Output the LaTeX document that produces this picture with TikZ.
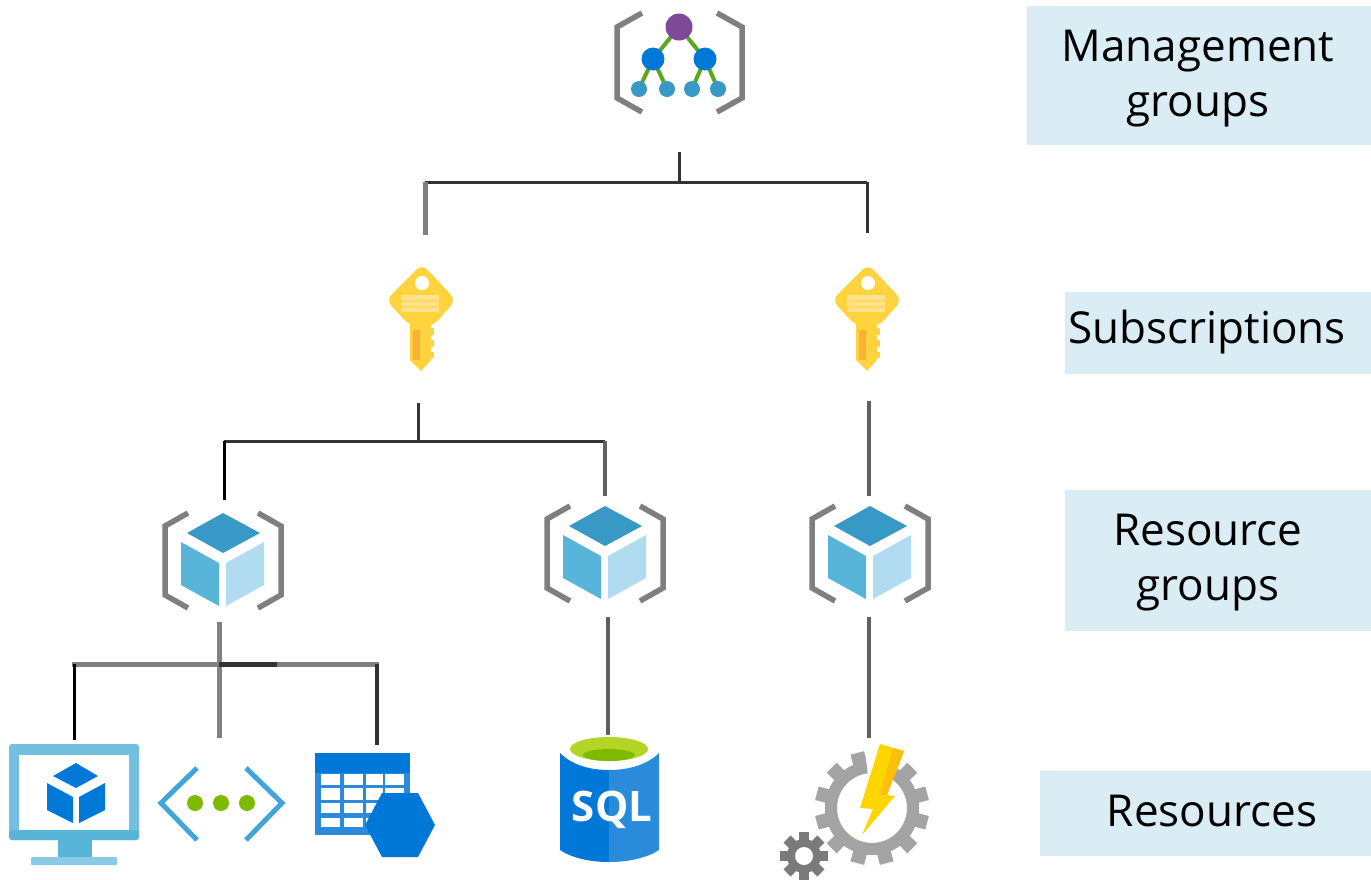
\documentclass[tikz,border=0pt]{standalone}
\usepackage{fontspec}
\setmainfont{Open Sans}
\definecolor{lab}{HTML}{DAEDF4}
\definecolor{brk}{HTML}{7F7F7F}
\definecolor{ink}{HTML}{333333}
\definecolor{midg}{HTML}{808080}
\definecolor{cubeT}{HTML}{3999C6}
\definecolor{cubeL}{HTML}{59B4D9}
\definecolor{cubeR}{HTML}{B0DBF0}
\definecolor{azb}{HTML}{0078D7}
\definecolor{azb2}{HTML}{2B8BDB}
\definecolor{purp}{HTML}{804998}
\definecolor{leaf}{HTML}{5EA51E}
\definecolor{lime}{HTML}{7FBA00}
\definecolor{keyY}{HTML}{FFD33D}
\definecolor{keyL}{HTML}{FFE38C}
\definecolor{keyO}{HTML}{F9B233}
\definecolor{gearL}{HTML}{A3A3A3}
\definecolor{gearD}{HTML}{7A7A7A}
\definecolor{apiB}{HTML}{40A6DA}
\definecolor{boltY}{HTML}{FFD500}
\definecolor{boltO}{HTML}{FFBE0A}
\tikzset{
  x=1pt,y=-1pt,
  labelbox/.style={fill=lab,draw=none},
  labeltext/.style={font=\fontsize{44}{55}\selectfont,align=center,text=black,inner sep=0pt},
  thinline/.style={draw=ink,line width=3pt},
  blackline/.style={draw=black,line width=3pt},
  greyline/.style={draw=midg,line width=5pt},
  slimgrey/.style={draw=black!62,line width=3.4pt},
  bracket/.style={draw=brk,line width=5.5pt,line join=miter},
  rgicon/.pic={
    \draw[bracket] (-35,-47)--(-58,-34)--(-58,35)--(-35,48);
    \draw[bracket] (35,-47)--(58,-34)--(58,35)--(35,48);
    \fill[cubeT] (0,-47)--(37,-27)--(0,-7)--(-36,-27)--cycle;
    \fill[cubeL] (-42,-18)--(-4,3)--(-4,46)--(-42,25)--cycle;
    \fill[cubeR] (3,3)--(41,-18)--(41,25)--(3,46)--cycle;
  },
  keyicon/.pic={
    \fill[keyY,rounded corners=8pt] (1,-56)--(35,-20)--(12,6)--(-11,6)--(-35,-20)--cycle;
    \fill[keyY] (-11,0)--(10,0)--(10,40)--(0,51)--(-11,40)--cycle;
    \fill[keyY] (9,8) rectangle (13,15);
    \fill[keyY] (9,20) rectangle (13,27);
    \fill[keyY] (9,32) rectangle (13,38);
    \fill[white] (1,-37) circle (7);
    \fill[keyL] (-20,-25) rectangle (18,-8);
    \fill[keyY!60!keyL] (-20,-20) rectangle (18,-18.5);
    \fill[keyY!60!keyL] (-20,-14) rectangle (18,-12.5);
    \fill[keyO] (-8,10) rectangle (-1,40);
  },
}
\begin{document}
\begin{tikzpicture}
\useasboundingbox (0,0) rectangle (1371,879);
% label bands
\fill[labelbox] (1027,6) rectangle (1371,145);
\fill[labelbox] (1065,292) rectangle (1371,374);
\fill[labelbox] (1065,490) rectangle (1371,631);
\fill[labelbox] (1040,771) rectangle (1371,856);
\node[labeltext] (lblMg) at (1198,79) {Management\\groups};
\node[labeltext] (lblSub) at (1207,332) {Subscriptions};
\node[labeltext] (lblRg) at (1208,563) {Resource\\groups};
\node[labeltext] (lblRes) at (1212,811) {Resources};
% connector anchors
\coordinate (mgOut) at (679,152);
\coordinate (mgJ) at (679,182);
\coordinate (subAIn) at (425,235);
\coordinate (subBIn) at (867,233);
\coordinate (subAOut) at (418,403);
\coordinate (subAJ) at (418,441);
\coordinate (rgAIn) at (224,500);
\coordinate (rgBIn) at (605,496);
\coordinate (subBOut) at (869,401);
\coordinate (rgCIn) at (869,496);
\coordinate (rgAOut) at (219,622);
\coordinate (apiIn) at (219,738);
\coordinate (vmIn) at (74,740);
\coordinate (tblIn) at (377,745);
\coordinate (rgBOut) at (608,617);
\coordinate (sqlIn) at (608,735);
\coordinate (rgCOut) at (869,617);
\coordinate (fnIn) at (869,738);
% connectors
\draw[thinline] (mgOut)--(mgJ);
\draw[thinline] (subAIn |- mgJ)--(subBIn |- mgJ);
\draw[greyline] (subAIn |- mgJ)--(subAIn);
\draw[thinline] (subBIn |- mgJ)--(subBIn);
\draw[thinline] (subAOut)--(subAJ);
\draw[thinline] (rgAIn |- subAJ)--(rgBIn |- subAJ);
\draw[blackline] (rgAIn |- subAJ)--(rgAIn);
\draw[slimgrey] (rgBIn |- subAJ)--(rgBIn);
\draw[slimgrey] (subBOut)--(rgCIn);
\draw[greyline] (rgAOut)--(apiIn);
\draw[greyline] ([xshift=-2pt]vmIn |- 0,664)--([xshift=2pt]tblIn |- 0,664);
\draw[draw=ink,line width=5pt] (219,664)--(277,664);
\draw[blackline] (vmIn |- 0,664)--(vmIn);
\draw[draw=ink,line width=4pt] (tblIn |- 0,664)--(tblIn);
\draw[slimgrey] (rgBOut)--(sqlIn);
\draw[slimgrey] (rgCOut)--(fnIn);
% management group icon
\draw[bracket] (642,13)--(617,27)--(617,98)--(642,112);
\draw[bracket] (717,13)--(742,27)--(742,98)--(717,112);
\coordinate (mgTop) at (679,27);
\coordinate (mgL) at (653,59);
\coordinate (mgR) at (705,59);
\coordinate (leafA) at (639,89);
\coordinate (leafB) at (667,89);
\coordinate (leafC) at (692,89);
\coordinate (leafD) at (718,89);
\draw[leaf,line width=4pt] (mgL)--(mgTop)--(mgR);
\draw[leaf,line width=4pt] (leafA)--(mgL)--(leafB);
\draw[leaf,line width=4pt] (leafC)--(mgR)--(leafD);
\fill[purp] (mgTop) circle (13.5);
\fill[azb] (mgL) circle (11.5);
\fill[azb] (mgR) circle (11.5);
\foreach \c in {leafA,leafB,leafC,leafD} \fill[cubeT] (\c) circle (8);
% keys
\pic (keyA) at (421,320) {keyicon};
\pic (keyB) at (867,320) {keyicon};
% resource groups
\pic (rgA) at (223,560) {rgicon};
\pic (rgB) at (605,553) {rgicon};
\pic (rgC) at (870,553) {rgicon};
% virtual machine
\fill[cubeL] (58,838) rectangle (92,858);
\fill[cubeL!70!white,rounded corners=1pt] (31,857) rectangle (117,865);
\fill[cubeL!85!white,rounded corners=3pt] (9,744) rectangle (139,840);
\fill[cubeL,rounded corners=3pt] (9,830) rectangle (139,840);
\fill[white] (19,755) rectangle (129,830);
\fill[azb] (76,763)--(98,776)--(76,788)--(53,776)--cycle;
\fill[azb] (47,783)--(73,797)--(73,823)--(47,810)--cycle;
\fill[azb] (79,797)--(105,783)--(105,810)--(79,823)--cycle;
% api
\draw[draw=apiB,line width=5pt] (197,768)--(161,803)--(197,840);
\draw[draw=apiB,line width=5pt] (246,768)--(282,803)--(246,840);
\foreach \px in {195,221,247} \fill[lime] (\px,803) circle (8);
% table + hexagon
\fill[azb2] (315,753) rectangle (410,835);
\fill[azb] (315,753) rectangle (410,773);
\foreach \xa/\xb in {321/340,344/363,366/383,385/404}
  \foreach \ya/\yb in {774/785,788/800,803/813,818/827}
    \fill[white] (\xa,\ya) rectangle (\xb,\yb);
\fill[azb] (435,825)--(418,793)--(382,793)--(365,825)--(382,857)--(418,857)--cycle;
% sql
\fill[azb] (560,753) .. controls (572,765) and (590,770) .. (609,770)
  -- (609,862) .. controls (590,862) and (572,858) .. (560,850) -- cycle;
\fill[azb2] (659,753) .. controls (647,765) and (628,770) .. (609,770)
  -- (609,862) .. controls (628,862) and (647,858) .. (659,850) -- cycle;
\fill[lime!70!yellow!85!white] (609,749) ellipse (39 and 12);
\fill[lime] (609,755) ellipse (26 and 6);
\node[font=\bfseries\fontsize{42}{42}\selectfont,text=white,inner sep=0pt] (sqlTxt) at (612,810) {SQL};
% function gear
\foreach \a in {15,45,...,345}
  \fill[gearL,rotate around={\a:(872,808)}] (912,801) rectangle (929,815);
\draw[gearL,line width=12pt] (872,808) circle (41);
\fill[white] (872,808) -- ++(-97:50) arc (-97:-57:50) -- cycle;
\fill[white] (872,808) -- ++(-90:66) arc (-90:-60:66) -- cycle;
\fill[boltY] (880,744)--(904,751)--(887,795)--(895,796)--(862,835)--(873,809)--(860,808)--cycle;
\fill[boltO] (893,748)--(904,751)--(887,795)--(880,795)--cycle;
% small gear
\foreach \a in {0,45,...,315}
  \fill[gearD,rotate around={\a:(804,856)}] (799,832) rectangle (809,846);
\fill[gearD] (804,856) circle (17);
\fill[white] (804,856) circle (9);
\end{tikzpicture}
\end{document}
